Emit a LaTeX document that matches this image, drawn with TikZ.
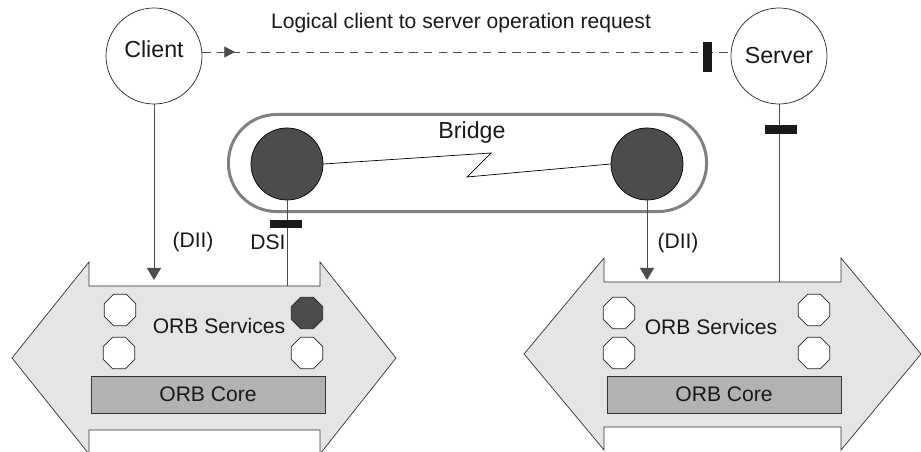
\documentclass[tikz,border=0pt]{standalone}
\usepackage{fontspec}
\setmainfont{Liberation Sans}
\usetikzlibrary{shapes.geometric,arrows.meta,decorations.markings}

\begin{document}
\begin{tikzpicture}[x=0.025cm, y=-0.025cm,
		txt/.style={font=\fontsize{15}{18}\selectfont, text=black!90, inner sep=0pt},
		bigtxt/.style={font=\fontsize{16.5}{20}\selectfont, text=black!90},
		peer/.style={circle, draw=black!85, line width=0.5pt, minimum size=2.4cm, inner sep=0pt, bigtxt},
		orbarrow/.style={fill=black!10, draw=black!80, line width=0.5pt},
		orbcore/.style={fill=black!30, draw=black!80, line width=0.5pt, minimum width=5.85cm, minimum height=0.925cm, txt},
		svc/.style={regular polygon, regular polygon sides=8, draw=black!85, line width=0.5pt, fill=white, minimum size=0.85cm, inner sep=0pt},
		bport/.style={circle, draw=black, line width=0.5pt, fill=black!70, minimum size=1.8cm, inner sep=0pt},
		bar/.style={fill=black!90, inner sep=0pt},
		link/.style={draw=black!70, line width=0.6pt},
		dii/.style={link, -{Triangle[length=0.3cm, width=0.35cm]}}
	]

		\useasboundingbox (0,0) rectangle (921,452);

		% ORB arrows
		\draw[orbarrow] (12,358) -- (89,262) -- (89,286) -- (320,286) -- (320,262) -- (396,358) -- (320,454) -- (320,430) -- (89,430) -- (89,454) -- cycle;
		\draw[orbarrow] (524,354) -- (604,258) -- (604,282) -- (841,282) -- (841,258) -- (921,354) -- (841,450) -- (841,427) -- (604,427) -- (604,450) -- cycle;

		\node[orbcore] (coreL) at (208,394.5) {ORB Core};
		\node[orbcore] (coreR) at (724,394.5) {ORB Core};
		\node[txt] (svcL) at (219,326) {ORB Services};
		\node[txt] (svcR) at (711,327) {ORB Services};

		\node[svc] (oL1) at (120,310) {};
		\node[svc] (oL2) at (119,353) {};
		\node[svc, fill=black!70] (oL3) at (307,313) {}; %DSI service
		\node[svc] (oL4) at (307,353) {};
		\node[svc] (oR1) at (619,313) {};
		\node[svc] (oR2) at (619,353) {};
		\node[svc] (oR3) at (814,310) {};
		\node[svc] (oR4) at (814,353) {};

		% client and server
		\node[peer] (client) at (154,56) {};
		\node[bigtxt, inner sep=0pt] (clientlbl) at (154,49) {Client};
		\node[peer] (server) at (779,56) {Server};
		\node[txt] (req) at (461,23) {Logical client to server operation request};

		\draw[link, dash pattern=on 6pt off 4.5pt, postaction={decorate},
			decoration={markings, mark=at position 0.062 with {\arrow{Triangle[length=0.27cm, width=0.27cm]}}}]
			([yshift=0.1cm]client.east) -- ([yshift=0.1cm]server.west);
		\node[bar, minimum width=0.225cm, minimum height=0.725cm] (srvport) at (707,57) {};

		% bridge
		\node[draw=black!50, line width=0.075cm, rounded corners=1.2cm, minimum width=11.95cm, minimum height=2.425cm, inner sep=0pt] (bridge) at (467.5,163) {};
		\node[bigtxt, inner sep=0pt] (bridgelbl) at (472,133) {Bridge};
		\node[bport] (bpL) at (287,164) {};
		\node[bport] (bpR) at (647,164) {};

		\coordinate (zz1) at (491,153);
		\coordinate (zz2) at (467,177);
		\draw[line width=0.5pt] (bpL.east) -- (zz1) -- (zz2) -- (bpR.west);

		% connections to the ORBs
		\coordinate (diiL) at (154,280);
		\coordinate (dsiend) at (287,286);
		\coordinate (diiR) at (647,280);
		\coordinate (srvend) at (779,282);

		\draw[dii] (client.south) -- (diiL);
		\draw[link] (bpL.south) -- (dsiend);
		\draw[dii] (bpR.south) -- (diiR);
		\draw[link] (server.south) -- (srvend);

		\node[bar, minimum width=0.8cm, minimum height=0.2cm] (dsibar) at (286,224) {};
		\node[bar, minimum width=0.8cm, minimum height=0.225cm] (srvbar) at (781,130) {};

		\node[txt] (diiLlbl) at (193,242) {(DII)};
		\node[txt] (dsilbl) at (268,242) {DSI};
		\node[txt] (diiRlbl) at (678,243) {(DII)};

	\end{tikzpicture}
\end{document}
